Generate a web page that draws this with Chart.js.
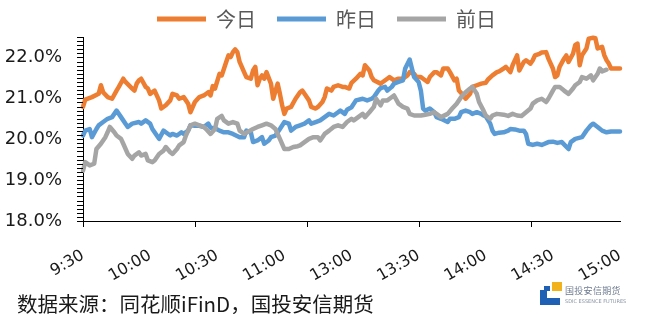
<!DOCTYPE html>
<html><head><meta charset="utf-8">
<script src="https://cdn.jsdelivr.net/npm/chart.js@4.4.1/dist/chart.umd.min.js"></script>
<style>
html,body{margin:0;padding:0;background:#fff;}
#wrap{position:relative;width:653px;height:314px;overflow:hidden;background:#fff;}
#c{position:absolute;left:0;top:0;}
#src{position:absolute;left:17px;top:290px;font-family:"Noto Sans CJK SC";font-size:20.5px;color:#1a1a1a;white-space:nowrap;line-height:26px;}
#logo{position:absolute;left:540px;top:282px;width:112px;height:26px;}
#logo .b{position:absolute;background:#1f5fb4;}
#logo .g{position:absolute;background:#f2b21c;}
#logo .t1{position:absolute;left:25px;top:3px;font-family:"Noto Sans CJK SC";font-size:9px;line-height:11px;color:#6d7a90;white-space:nowrap;letter-spacing:0.3px;}
#logo .t2{position:absolute;left:25px;top:16px;font-family:"DejaVu Sans";font-size:5px;line-height:6px;color:#8a94a6;white-space:nowrap;}
</style></head>
<body><div id="wrap"><canvas id="c" width="653" height="314"></canvas>
<div id="src">数据来源：同花顺iFinD，国投安信期货</div>
<div id="logo"><div class="g" style="left:12px;top:0;width:10px;height:9px"></div><div class="b" style="left:0;top:8px;width:7px;height:15px"></div><div class="b" style="left:0;top:16px;width:20px;height:7px"></div><div class="b" style="left:4px;top:4px;width:6px;height:5px"></div><div class="t1">国投安信期货</div><div class="t2">SDIC ESSENCE FUTURES</div></div>
</div>
<script>
const seriesNames = ['今日', '昨日', '前日'];
const timeLabels = ['9:30', '10:00', '10:30', '11:00', '13:00', '13:30', '14:00', '14:30', '15:00'];
const xLabelEvery = 30;     // minutes between time labels
const xTickMarkEvery = 50;  // minutes between x tick marks
const yMin = 18, yMax = 22.5, yMinorStep = 0.1;

// minute index since 9:30 (trading minutes) and value in %
const todayMin = [0,1,4,7,8,9,11,13,15,16,18,19,22,23,24,25,26,28,29,30,32,34,35,37,39,40,42,43,45,46,47,48,50,52,54,56,57,58,59,61,62,64,65,66,67,68,69,70,72,73,75,76,77,78,79,80,81,82,84,85,87,88,89,90,91,93,95,97,98,99,101,102,104,105,107,108,109,111,112,114,116,117,119,120,122,124,125,126,128,129,130,133,134,136,137,139,141,143,145,146,148,149,151,152,154,155,157,158,160,161,163,164,166,167,168,170,171,173,174,176,178,180,181,183,185,186,188,189,191,192,194,195,197,198,200,201,202,204,205,207,208,210,211,212,213,215,216,217,219,220,221,222,223,225,226,228,229,230,232,233,234,235,236,238,240];
const todayVal = [20.79,20.97,21.03,21.11,21.32,21.15,21.03,20.99,21.19,21.28,21.48,21.40,21.24,21.19,21.36,21.44,21.48,21.28,21.24,21.11,21.19,20.95,20.75,20.83,20.95,21.11,21.07,20.99,21.03,20.95,20.87,20.66,20.91,21.03,21.07,21.15,21.07,21.30,21.24,21.60,21.56,21.89,22.05,22.01,22.13,22.20,22.13,21.89,21.64,21.52,21.48,21.68,21.77,21.32,21.48,21.56,21.48,21.64,21.36,20.99,21.36,21.11,20.83,20.62,20.75,20.79,20.99,21.15,21.19,21.11,20.95,20.79,20.75,20.79,20.91,21.03,21.24,21.19,21.28,21.32,21.28,21.28,21.24,21.38,21.48,21.60,21.56,21.81,21.68,21.52,21.44,21.36,21.40,21.48,21.52,21.44,21.48,21.48,21.56,21.64,21.60,21.52,21.52,21.48,21.40,21.52,21.64,21.64,21.56,21.73,21.73,21.64,21.44,21.48,21.19,21.07,20.99,21.11,21.28,21.32,21.36,21.38,21.46,21.56,21.64,21.66,21.73,21.77,21.64,21.81,22.05,21.68,21.89,21.93,21.85,21.93,22.05,22.09,22.12,22.13,21.97,21.73,21.52,21.56,21.77,21.97,22.05,21.89,22.09,22.30,22.34,21.81,22.05,22.22,22.46,22.48,22.47,22.22,22.26,22.05,21.93,21.85,21.73,21.73,21.73];

const yestMin = [0,1,3,4,6,7,9,11,13,14,15,17,19,20,22,25,26,28,30,31,33,34,36,37,39,40,42,44,45,47,48,50,52,54,56,57,59,61,63,65,67,70,72,73,75,76,78,80,81,83,84,86,88,90,92,93,95,97,99,101,102,104,106,108,110,112,114,115,117,118,120,122,125,127,129,130,132,133,135,136,138,139,141,143,144,146,147,148,150,151,152,153,155,157,158,160,163,164,166,168,169,171,173,174,176,178,179,180,182,183,184,186,188,190,191,193,195,197,198,199,201,203,205,208,210,212,214,217,218,220,223,225,227,228,230,232,234,236,240];
const yestVal = [20.09,20.21,20.25,20.05,20.25,20.34,20.42,20.50,20.54,20.62,20.70,20.54,20.38,20.30,20.38,20.42,20.38,20.46,20.38,20.25,20.09,20.01,20.21,20.17,20.09,20.13,20.09,20.17,20.13,20.21,20.34,20.33,20.33,20.30,20.38,20.28,20.27,20.21,20.17,20.17,20.13,20.05,20.05,20.21,20.17,19.93,19.97,20.05,19.89,19.97,20.05,20.09,20.25,20.42,20.38,20.21,20.30,20.34,20.38,20.46,20.38,20.42,20.46,20.54,20.62,20.58,20.66,20.70,20.62,20.72,20.78,20.95,20.99,20.95,20.99,21.03,21.19,21.25,21.28,21.19,21.28,21.36,21.40,21.44,21.73,21.95,21.73,21.52,21.40,21.19,20.75,20.70,20.75,20.66,20.54,20.50,20.42,20.50,20.50,20.54,20.66,20.70,20.66,20.62,20.66,20.62,20.58,20.56,20.38,20.21,20.13,20.16,20.17,20.21,20.25,20.24,20.21,20.21,20.13,19.89,19.86,19.89,19.86,19.93,19.94,19.91,19.93,19.76,19.93,20.01,20.05,20.21,20.34,20.38,20.30,20.21,20.17,20.19,20.19];

const prevMin = [0,1,3,5,6,8,10,11,12,14,15,17,18,20,22,23,25,26,28,29,31,32,34,36,37,39,40,42,43,45,46,48,50,52,54,55,57,59,60,62,63,65,67,69,70,72,74,76,78,80,82,84,86,88,90,92,94,96,97,99,101,103,105,106,108,110,112,114,116,118,120,121,123,125,126,128,130,131,133,134,136,137,139,141,143,145,146,148,151,153,155,157,158,160,163,165,167,169,171,173,174,176,177,179,180,182,183,185,188,190,192,194,196,198,200,201,203,205,207,208,210,211,213,215,217,219,220,222,223,225,227,228,230,231,232,234];
const prevVal = [19.23,19.44,19.36,19.40,19.76,19.89,20.05,20.17,20.30,20.17,20.09,20.01,19.89,19.64,19.52,19.60,19.68,19.60,19.64,19.48,19.44,19.48,19.64,19.72,19.81,19.68,19.64,19.76,19.85,19.93,20.09,20.34,20.38,20.34,20.30,20.25,20.13,20.25,20.50,20.57,20.46,20.38,20.42,20.38,20.21,20.13,20.19,20.25,20.30,20.34,20.38,20.34,20.25,20.01,19.76,19.76,19.81,19.83,19.85,19.93,20.01,20.05,20.05,19.97,20.13,20.21,20.30,20.34,20.30,20.42,20.50,20.46,20.54,20.62,20.54,20.66,20.79,20.99,20.83,20.95,20.95,20.99,21.07,20.87,20.79,20.75,20.62,20.58,20.58,20.60,20.62,20.66,20.62,20.54,20.62,20.75,20.87,21.03,21.15,21.24,21.28,21.11,20.91,20.70,20.58,20.50,20.58,20.62,20.60,20.57,20.62,20.58,20.57,20.66,20.75,20.87,20.95,20.99,20.91,20.99,21.19,21.28,21.28,21.19,21.11,21.24,21.32,21.40,21.52,21.48,21.56,21.44,21.60,21.73,21.66,21.70];

const seriesColors = ['#ED7D31', '#5B9BD5', '#A5A5A5'];

function pts(ms, vs) { return ms.map((m, i) => ({x: m, y: vs[i]})); }
const seriesData = [pts(todayMin, todayVal), pts(yestMin, yestVal), pts(prevMin, prevVal)];

const datasets = seriesNames.map((name, i) => ({
  label: name,
  data: seriesData[i],
  borderColor: seriesColors[i],
  backgroundColor: seriesColors[i],
  borderWidth: 4.5,
  pointRadius: 0,
  tension: 0,
  fill: false,
  clip: 10,
  borderJoinStyle: 'round',
  borderCapStyle: 'round',
  order: 3 - i
}));

// tick marks drawn from the chart's own scales
const tickMarks = {
  id: 'tickMarks',
  afterDraw(chart) {
    const {ctx} = chart;
    const x = chart.scales.x, y = chart.scales.y;
    ctx.save();
    ctx.setLineDash([]);
    ctx.lineCap = 'butt';
    ctx.strokeStyle = '#000';
    ctx.lineWidth = 1;
    ctx.beginPath();
    const n = Math.round((yMax - yMin) / yMinorStep);
    for (let k = 0; k <= n; k++) {
      const py = Math.round(y.getPixelForValue(yMin + k * yMinorStep)) + 0.5;
      ctx.moveTo(y.right - 6, py); ctx.lineTo(y.right, py);
    }
    for (let m = 0; m <= x.max; m += xTickMarkEvery) {
      const px = Math.round(x.getPixelForValue(m)) + 0.5;
      ctx.moveTo(px, x.top); ctx.lineTo(px, x.top + 6);
    }
    ctx.stroke();
    ctx.restore();
  }
};

new Chart(document.getElementById('c'), {
  type: 'line',
  data: { datasets },
  plugins: [tickMarks],
  options: {
    responsive: false,
    animation: false,
    devicePixelRatio: 1,
    layout: { padding: { left: 5, right: 5, top: -12, bottom: 23 } },
    plugins: {
      tooltip: { enabled: false },
      legend: {
        position: 'top',
        align: 'center',
        maxHeight: 49,
        labels: {
          boxWidth: 49,
          boxHeight: 5,
          padding: 21,
          color: '#595959',
          font: { family: '"Noto Sans CJK SC"', size: 20 },
          sort: (a, b) => a.datasetIndex - b.datasetIndex,
          generateLabels: (chart) => chart.data.datasets.map((d, i) => ({
            text: d.label, fillStyle: d.borderColor, strokeStyle: d.borderColor,
            lineWidth: 0, hidden: false, datasetIndex: i, fontColor: '#595959'
          }))
        }
      }
    },
    scales: {
      x: {
        type: 'linear',
        min: 0, max: 240,
        afterFit: (s) => { s.height = 70; },
        border: { display: true, color: '#000', width: 1 },
        grid: { display: false, drawOnChartArea: false, drawTicks: true, tickLength: 6 },
        ticks: {
          stepSize: 10, autoSkip: false, maxRotation: 30, minRotation: 30,
          padding: 19, color: '#1a1a1a',
          font: { family: '"DejaVu Sans"', size: 16 },
          callback: (v) => {
            const r = Math.round(v);
            return (r % xLabelEvery === 0) ? timeLabels[r / xLabelEvery] : '';
          }
        }
      },
      y: {
        min: yMin, max: yMax,
        afterFit: (s) => { s.width = 78; },
        border: { display: true, color: '#000', width: 1 },
        grid: { display: false, drawOnChartArea: false, drawTicks: true, tickLength: 5 },
        ticks: {
          stepSize: 0.5, autoSkip: false,
          padding: 16, color: '#1a1a1a',
          font: { family: '"DejaVu Sans"', size: 18 },
          callback: (v) => (Math.abs(v - Math.round(v)) < 1e-6) ? Math.round(v).toFixed(1) + '%' : ''
        }
      },
      yRight: {
        position: 'right',
        display: true,
        afterFit: (s) => { s.width = 28; },
        grid: { display: false },
        border: { display: false },
        ticks: { display: false }
      }
    }
  }
});
</script>
</body></html>
